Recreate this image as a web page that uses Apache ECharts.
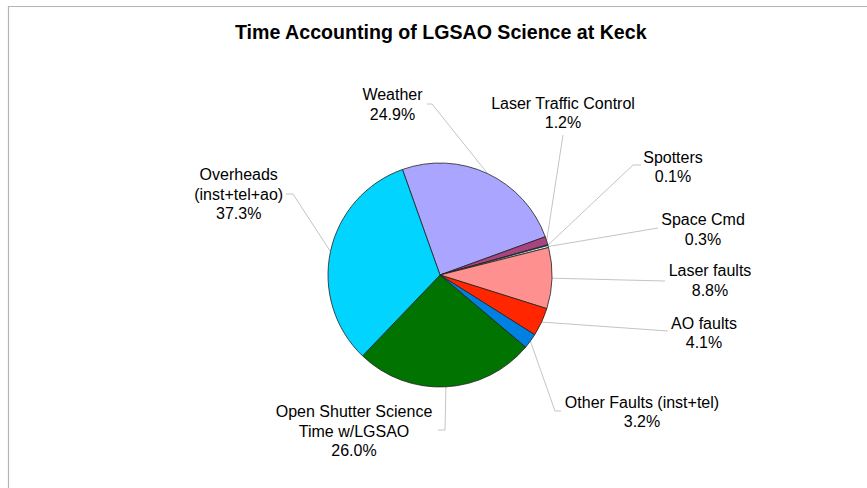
<!DOCTYPE html>
<html><head><meta charset="utf-8">
<script src="https://cdn.jsdelivr.net/npm/echarts@6/dist/echarts.min.js"></script>
<style>html,body{margin:0;padding:0;background:#fff}#c{width:867px;height:488px}</style>
</head><body><div id="c"></div>
<script>
const titleText = 'Time Accounting of LGSAO Science at Keck';
const categories = ['Weather', 'Laser Traffic Control', 'Spotters', 'Space Cmd', 'Laser faults', 'AO faults',
  'Other Faults (inst+tel)', 'Open Shutter Science\nTime w/LGSAO', 'Overheads\n(inst+tel+ao)'];
// slice sizes as drawn in the picture (%)
const sliceValues = [24.9, 1.2, 0.1, 0.3, 8.8, 4.1, 2.2, 26.0, 32.4];
// percentages printed on the labels
const labelPercents = ['24.9%', '1.2%', '0.1%', '0.3%', '8.8%', '4.1%', '3.2%', '26.0%', '37.3%'];

// styling / layout (not data)
const colors = ['#aaa6ff', '#a8447f', '#339999', '#ccffff', '#ff9090', '#ff2600', '#0080e0', '#007300', '#00d4ff'];
// label block centre, leader-line elbow and end
const labelLayouts = [
  {x: 392.5, y: 104.5, elbow: [432, 104], end: [427, 104]},
  {x: 563, y: 113, elbow: [563, 135], end: [563, 135]},
  {x: 673, y: 167, elbow: [633, 165], end: [641, 165]},
  {x: 703, y: 229.6, elbow: [658, 228], end: [658, 228]},
  {x: 710, y: 280.7, elbow: [665, 281], end: [665, 281]},
  {x: 704, y: 333, elbow: [668, 331], end: [668, 331]},
  {x: 642, y: 412, elbow: [555, 411], end: [561, 411]},
  {x: 354, y: 431, elbow: [445, 430], end: [438, 430]},
  {x: 238.7, y: 194.3, elbow: [293, 194], end: [286, 194]}
];

const FONT = 'Liberation Sans, Arial, sans-serif';
const chart = echarts.init(document.getElementById('c'), null, {renderer: 'svg'});
chart.setOption({
  animation: false,
  backgroundColor: '#ffffff',
  title: {
    text: titleText,
    left: 235, top: 22, padding: 0,
    textStyle: {fontFamily: FONT, fontSize: 19.6, fontWeight: 'bold', color: '#000', lineHeight: 20}
  },
  graphic: [{
    type: 'rect', silent: true,
    shape: {x: 8.5, y: 6.5, width: 900, height: 520},
    style: {fill: 'none', stroke: '#b4b4b4', lineWidth: 1.2}
  }],
  series: [{
    type: 'pie',
    center: [440, 275],
    radius: 112,
    startAngle: 109.6,
    clockwise: true,
    avoidLabelOverlap: false,
    emphasis: {disabled: true},
    itemStyle: {borderColor: '#222', borderWidth: 0.8},
    label: {
      show: true, position: 'outside', overflow: 'none',
      fontFamily: FONT, fontSize: 16, lineHeight: 19.5, color: '#000', align: 'center',
      formatter: p => categories[p.dataIndex] + '\n' + labelPercents[p.dataIndex]
    },
    labelLine: {show: true, length: 10, length2: 10, smooth: false, lineStyle: {color: '#c4c4c4', width: 1}},
    labelLayout: function (params) {
      const L = labelLayouts[params.dataIndex];
      const pts = params.labelLinePoints;
      const res = {x: L.x, y: L.y, align: 'center', verticalAlign: 'middle'};
      if (pts) res.labelLinePoints = [pts[0], L.elbow, L.end];
      return res;
    },
    data: categories.map((n, i) => ({name: n, value: sliceValues[i], itemStyle: {color: colors[i]}}))
  }]
});
</script></body></html>
